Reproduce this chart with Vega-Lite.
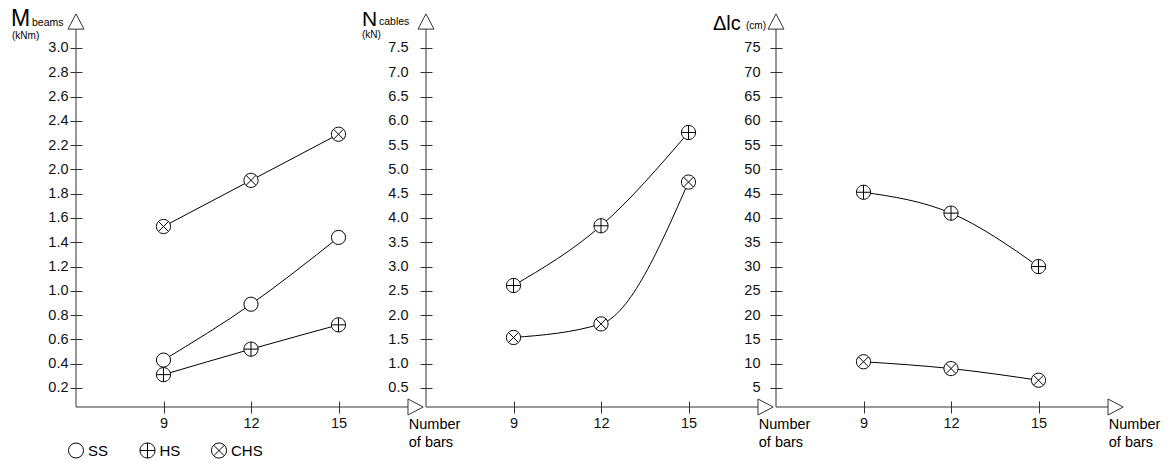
{
  "$schema": "https://vega.github.io/schema/vega-lite/v6.json",
  "autosize": {"type": "pad"},
  "padding": {"left": 11, "top": 8, "right": 0, "bottom": 0},
  "bounds": "flush",
  "spacing": 426.5,
  "config": {
    "font": "Liberation Sans",
    "view": {"stroke": null},
    "axis": {"grid": false, "domain": false, "tickColor": "#333", "tickWidth": 1, "tickSize": 12, "tickCount": 40, "labelColor": "#111", "labelFontSize": 14.5, "labelFont": "Liberation Sans", "labelOverlap": false}
  },
  "datasets": {
    "d": [
      {"panel": "M", "series": "SS", "bars": 9, "value": 0.43},
      {"panel": "M", "series": "SS", "bars": 12, "value": 0.89},
      {"panel": "M", "series": "SS", "bars": 15, "value": 1.44},
      {"panel": "M", "series": "HS", "bars": 9, "value": 0.31},
      {"panel": "M", "series": "HS", "bars": 12, "value": 0.52},
      {"panel": "M", "series": "HS", "bars": 15, "value": 0.72},
      {"panel": "M", "series": "CHS", "bars": 9, "value": 1.53},
      {"panel": "M", "series": "CHS", "bars": 12, "value": 1.91},
      {"panel": "M", "series": "CHS", "bars": 15, "value": 2.29},
      {"panel": "N", "series": "HS", "bars": 9, "value": 2.61},
      {"panel": "N", "series": "HS", "bars": 12, "value": 3.84},
      {"panel": "N", "series": "HS", "bars": 15, "value": 5.76},
      {"panel": "N", "series": "CHS", "bars": 9, "value": 1.54},
      {"panel": "N", "series": "CHS", "bars": 12, "value": 1.82},
      {"panel": "N", "series": "CHS", "bars": 15, "value": 4.74},
      {"panel": "D", "series": "HS", "bars": 9, "value": 45.3},
      {"panel": "D", "series": "HS", "bars": 12, "value": 41.0},
      {"panel": "D", "series": "HS", "bars": 15, "value": 30.0},
      {"panel": "D", "series": "CHS", "bars": 9, "value": 10.4},
      {"panel": "D", "series": "CHS", "bars": 12, "value": 9.0},
      {"panel": "D", "series": "CHS", "bars": 15, "value": 6.6}
    ],
    "legend": [
      {"series": "SS"},
      {"series": "HS"},
      {"series": "CHS"}
    ]
  },
  "vconcat": [
    {
      "bounds": "flush",
      "spacing": 0,
      "hconcat": [
        {
          "width": 350, "height": 393,
          "layer": [
            {"data": {"name": "d"}, "transform": [{"filter": "datum.panel === 'M'"}],
             "mark": {"type": "line", "interpolate": "monotone", "stroke": "black", "strokeWidth": 1},
             "encoding": {
               "x": {"field": "bars", "type": "quantitative", "scale": {"domain": [6, 18], "nice": false, "zero": false},
                     "axis": {"values": [9, 12, 15], "format": "d", "offset": -6, "labelPadding": 3, "tickCount": 40, "title": null}},
               "y": {"field": "value", "type": "quantitative", "scale": {"domain": [0.0435, 3.28], "nice": false, "zero": false},
                     "axis": {"values": [0.2, 0.4, 0.6, 0.8, 1.0, 1.2, 1.4, 1.6, 1.8, 2.0, 2.2, 2.4, 2.6, 2.8, 3.0], "format": ".1f", "offset": -6, "labelPadding": 2, "tickCount": 40, "title": null}},
               "detail": {"field": "series"}
             }},
            {"data": {"name": "d"}, "transform": [{"filter": "datum.panel === 'M'"}],
             "mark": {"type": "point", "fill": "white", "stroke": "black", "strokeWidth": 1, "size": 200, "opacity": 1},
             "encoding": {
               "x": {"field": "bars", "type": "quantitative"},
               "y": {"field": "value", "type": "quantitative"},
               "shape": {"field": "series", "type": "nominal", "legend": null,
                 "scale": {"domain": ["SS", "HS", "CHS"], "range": ["circle", "M-1 0A1 1 0 1 1 1 0A1 1 0 1 1 -1 0ZM-1 0L1 0M0 -1L0 1", "M-1 0A1 1 0 1 1 1 0A1 1 0 1 1 -1 0ZM-0.707 -0.707L0.707 0.707M-0.707 0.707L0.707 -0.707"]}}
             }},
            {"data": {"values": [{}]}, "mark": {"type": "rule", "stroke": "#333", "strokeWidth": 1},
             "encoding": {"x": {"datum": 6, "type": "quantitative"}, "y": {"datum": 0.0435, "type": "quantitative"}, "y2": {"datum": 3.1565}}},
            {"data": {"values": [{}]}, "mark": {"type": "rule", "stroke": "#333", "strokeWidth": 1},
             "encoding": {"x": {"datum": 6, "type": "quantitative"}, "x2": {"datum": 17.41}, "y": {"datum": 0.0435, "type": "quantitative"}}},
            {"data": {"values": [{}]}, "mark": {"type": "point", "shape": "M0 -0.95L1 0.95L-1 0.95Z", "size": 256, "fill": "white", "stroke": "#333", "strokeWidth": 1, "opacity": 1},
             "encoding": {"x": {"datum": 6, "type": "quantitative"}, "y": {"datum": 3.218, "type": "quantitative"}}},
            {"data": {"values": [{}]}, "mark": {"type": "point", "shape": "M0.95 0L-0.95 -1L-0.95 1Z", "size": 256, "fill": "white", "stroke": "#333", "strokeWidth": 1, "opacity": 1},
             "encoding": {"x": {"datum": 17.643, "type": "quantitative"}, "y": {"datum": 0.0435, "type": "quantitative"}}},
            {"data": {"values": [{}]}, "mark": {"type": "text", "text": "M", "fontSize": 23, "align": "left", "baseline": "alphabetic", "dx": -65, "dy": 12, "color": "black"},
             "encoding": {"x": {"datum": 6, "type": "quantitative"}, "y": {"datum": 3.28, "type": "quantitative"}}},
            {"data": {"values": [{}]}, "mark": {"type": "text", "text": "beams", "fontSize": 10.5, "align": "left", "baseline": "alphabetic", "dx": -44, "dy": 12, "color": "black"},
             "encoding": {"x": {"datum": 6, "type": "quantitative"}, "y": {"datum": 3.28, "type": "quantitative"}}},
            {"data": {"values": [{}]}, "mark": {"type": "text", "text": "(kNm)", "fontSize": 10, "align": "left", "baseline": "alphabetic", "dx": -64, "dy": 25, "color": "black"},
             "encoding": {"x": {"datum": 6, "type": "quantitative"}, "y": {"datum": 3.28, "type": "quantitative"}}},
            {"data": {"values": [{}]}, "mark": {"type": "text", "text": ["Number", "of bars"], "fontSize": 14.5, "lineHeight": 18, "align": "left", "baseline": "alphabetic", "dy": 22, "color": "black"},
             "encoding": {"x": {"datum": 17.41, "type": "quantitative"}, "y": {"datum": 0.0435, "type": "quantitative"}}}
          ]
        },
        {
          "width": 350, "height": 393,
          "layer": [
            {"data": {"name": "d"}, "transform": [{"filter": "datum.panel === 'N'"}],
             "mark": {"type": "line", "interpolate": "monotone", "stroke": "black", "strokeWidth": 1},
             "encoding": {
               "x": {"field": "bars", "type": "quantitative", "scale": {"domain": [6, 18], "nice": false, "zero": false},
                     "axis": {"values": [9, 12, 15], "format": "d", "offset": -6, "labelPadding": 3, "tickCount": 40, "title": null}},
               "y": {"field": "value", "type": "quantitative", "scale": {"domain": [0.1088, 8.2], "nice": false, "zero": false},
                     "axis": {"values": [0.5, 1.0, 1.5, 2.0, 2.5, 3.0, 3.5, 4.0, 4.5, 5.0, 5.5, 6.0, 6.5, 7.0, 7.5], "format": ".1f", "offset": -6, "labelPadding": 12, "tickCount": 40, "title": null}},
               "detail": {"field": "series"}
             }},
            {"data": {"name": "d"}, "transform": [{"filter": "datum.panel === 'N'"}],
             "mark": {"type": "point", "fill": "white", "stroke": "black", "strokeWidth": 1, "size": 200, "opacity": 1},
             "encoding": {
               "x": {"field": "bars", "type": "quantitative"},
               "y": {"field": "value", "type": "quantitative"},
               "shape": {"field": "series", "type": "nominal", "legend": null,
                 "scale": {"domain": ["SS", "HS", "CHS"], "range": ["circle", "M-1 0A1 1 0 1 1 1 0A1 1 0 1 1 -1 0ZM-1 0L1 0M0 -1L0 1", "M-1 0A1 1 0 1 1 1 0A1 1 0 1 1 -1 0ZM-0.707 -0.707L0.707 0.707M-0.707 0.707L0.707 -0.707"]}}
             }},
            {"data": {"values": [{}]}, "mark": {"type": "rule", "stroke": "#333", "strokeWidth": 1},
             "encoding": {"x": {"datum": 6, "type": "quantitative"}, "y": {"datum": 0.1088, "type": "quantitative"}, "y2": {"datum": 7.891}}},
            {"data": {"values": [{}]}, "mark": {"type": "rule", "stroke": "#333", "strokeWidth": 1},
             "encoding": {"x": {"datum": 6, "type": "quantitative"}, "x2": {"datum": 17.41}, "y": {"datum": 0.1088, "type": "quantitative"}}},
            {"data": {"values": [{}]}, "mark": {"type": "point", "shape": "M0 -0.95L1 0.95L-1 0.95Z", "size": 256, "fill": "white", "stroke": "#333", "strokeWidth": 1, "opacity": 1},
             "encoding": {"x": {"datum": 6, "type": "quantitative"}, "y": {"datum": 8.0456, "type": "quantitative"}}},
            {"data": {"values": [{}]}, "mark": {"type": "point", "shape": "M0.95 0L-0.95 -1L-0.95 1Z", "size": 256, "fill": "white", "stroke": "#333", "strokeWidth": 1, "opacity": 1},
             "encoding": {"x": {"datum": 17.643, "type": "quantitative"}, "y": {"datum": 0.1088, "type": "quantitative"}}},
            {"data": {"values": [{}]}, "mark": {"type": "text", "text": "N", "fontSize": 21, "align": "left", "baseline": "alphabetic", "dx": -64, "dy": 12, "color": "black"},
             "encoding": {"x": {"datum": 6, "type": "quantitative"}, "y": {"datum": 8.2, "type": "quantitative"}}},
            {"data": {"values": [{}]}, "mark": {"type": "text", "text": "cables", "fontSize": 10.5, "align": "left", "baseline": "alphabetic", "dx": -47, "dy": 11, "color": "black"},
             "encoding": {"x": {"datum": 6, "type": "quantitative"}, "y": {"datum": 8.2, "type": "quantitative"}}},
            {"data": {"values": [{}]}, "mark": {"type": "text", "text": "(kN)", "fontSize": 10, "align": "left", "baseline": "alphabetic", "dx": -64, "dy": 24, "color": "black"},
             "encoding": {"x": {"datum": 6, "type": "quantitative"}, "y": {"datum": 8.2, "type": "quantitative"}}},
            {"data": {"values": [{}]}, "mark": {"type": "text", "text": ["Number", "of bars"], "fontSize": 14.5, "lineHeight": 18, "align": "left", "baseline": "alphabetic", "dy": 22, "color": "black"},
             "encoding": {"x": {"datum": 17.41, "type": "quantitative"}, "y": {"datum": 0.1088, "type": "quantitative"}}}
          ]
        },
        {
          "width": 350, "height": 393,
          "layer": [
            {"data": {"name": "d"}, "transform": [{"filter": "datum.panel === 'D'"}],
             "mark": {"type": "line", "interpolate": "monotone", "stroke": "black", "strokeWidth": 1},
             "encoding": {
               "x": {"field": "bars", "type": "quantitative", "scale": {"domain": [6, 18], "nice": false, "zero": false},
                     "axis": {"values": [9, 12, 15], "format": "d", "offset": -6, "labelPadding": 3, "tickCount": 40, "title": null}},
               "y": {"field": "value", "type": "quantitative", "scale": {"domain": [1.088, 82.0], "nice": false, "zero": false},
                     "axis": {"values": [5, 10, 15, 20, 25, 30, 35, 40, 45, 50, 55, 60, 65, 70, 75], "format": "d", "offset": -6, "labelPadding": 10, "tickCount": 40, "title": null}},
               "detail": {"field": "series"}
             }},
            {"data": {"name": "d"}, "transform": [{"filter": "datum.panel === 'D'"}],
             "mark": {"type": "point", "fill": "white", "stroke": "black", "strokeWidth": 1, "size": 200, "opacity": 1},
             "encoding": {
               "x": {"field": "bars", "type": "quantitative"},
               "y": {"field": "value", "type": "quantitative"},
               "shape": {"field": "series", "type": "nominal", "legend": null,
                 "scale": {"domain": ["SS", "HS", "CHS"], "range": ["circle", "M-1 0A1 1 0 1 1 1 0A1 1 0 1 1 -1 0ZM-1 0L1 0M0 -1L0 1", "M-1 0A1 1 0 1 1 1 0A1 1 0 1 1 -1 0ZM-0.707 -0.707L0.707 0.707M-0.707 0.707L0.707 -0.707"]}}
             }},
            {"data": {"values": [{}]}, "mark": {"type": "rule", "stroke": "#333", "strokeWidth": 1},
             "encoding": {"x": {"datum": 6, "type": "quantitative"}, "y": {"datum": 1.088, "type": "quantitative"}, "y2": {"datum": 78.91}}},
            {"data": {"values": [{}]}, "mark": {"type": "rule", "stroke": "#333", "strokeWidth": 1},
             "encoding": {"x": {"datum": 6, "type": "quantitative"}, "x2": {"datum": 17.41}, "y": {"datum": 1.088, "type": "quantitative"}}},
            {"data": {"values": [{}]}, "mark": {"type": "point", "shape": "M0 -0.95L1 0.95L-1 0.95Z", "size": 256, "fill": "white", "stroke": "#333", "strokeWidth": 1, "opacity": 1},
             "encoding": {"x": {"datum": 6, "type": "quantitative"}, "y": {"datum": 80.456, "type": "quantitative"}}},
            {"data": {"values": [{}]}, "mark": {"type": "point", "shape": "M0.95 0L-0.95 -1L-0.95 1Z", "size": 256, "fill": "white", "stroke": "#333", "strokeWidth": 1, "opacity": 1},
             "encoding": {"x": {"datum": 17.643, "type": "quantitative"}, "y": {"datum": 1.088, "type": "quantitative"}}},
            {"data": {"values": [{}]}, "mark": {"type": "text", "text": "Δlc", "fontSize": 20, "align": "left", "baseline": "alphabetic", "dx": -63, "dy": 16, "color": "black"},
             "encoding": {"x": {"datum": 6, "type": "quantitative"}, "y": {"datum": 82.0, "type": "quantitative"}}},
            {"data": {"values": [{}]}, "mark": {"type": "text", "text": "(cm)", "fontSize": 10, "align": "left", "baseline": "alphabetic", "dx": -30, "dy": 15, "color": "black"},
             "encoding": {"x": {"datum": 6, "type": "quantitative"}, "y": {"datum": 82.0, "type": "quantitative"}}},
            {"data": {"values": [{}]}, "mark": {"type": "text", "text": ["Number", "of bars"], "fontSize": 14.5, "lineHeight": 18, "align": "left", "baseline": "alphabetic", "dy": 22, "color": "black"},
             "encoding": {"x": {"datum": 17.41, "type": "quantitative"}, "y": {"datum": 1.088, "type": "quantitative"}}}
          ]
        }
      ]
    },
    {
      "width": 143, "height": 20,
      "data": {"name": "legend"},
      "encoding": {
        "x": {"field": "series", "type": "nominal", "sort": null, "scale": {"type": "point", "domain": ["SS", "HS", "CHS"], "padding": 0}, "axis": null}
      },
      "layer": [
        {"mark": {"type": "point", "fill": "white", "stroke": "black", "strokeWidth": 1, "size": 225, "opacity": 1},
         "encoding": {
           "shape": {"field": "series", "type": "nominal", "legend": null,
             "scale": {"domain": ["SS", "HS", "CHS"], "range": ["circle", "M-1 0A1 1 0 1 1 1 0A1 1 0 1 1 -1 0ZM-1 0L1 0M0 -1L0 1", "M-1 0A1 1 0 1 1 1 0A1 1 0 1 1 -1 0ZM-0.707 -0.707L0.707 0.707M-0.707 0.707L0.707 -0.707"]}}
         }},
        {"mark": {"type": "text", "align": "left", "baseline": "middle", "dx": 12, "fontSize": 15, "color": "black"},
         "encoding": {"text": {"field": "series", "type": "nominal"}}}
      ]
    }
  ]
}
